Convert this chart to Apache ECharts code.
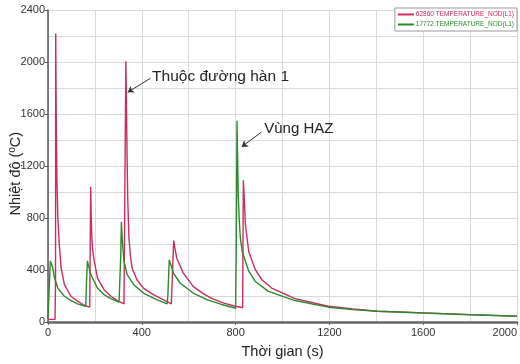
<!DOCTYPE html>
<html>
<head>
<meta charset="utf-8">
<script src="https://cdn.jsdelivr.net/npm/echarts@6/dist/echarts.min.js"></script>
<style>html,body{margin:0;padding:0;background:#fff}#c{width:520px;height:364px}</style>
</head>
<body>
<div id="c"></div>
<script>
// Series names
var seriesNames = ['62860 TEMPERATURE_NOD(L1)', '17772 TEMPERATURE_NOD(L1)'];
// Red node (62860): [time s, temperature ºC]
var redTime = [0,30,32,33,35,38,42,48,56,70,98,126,154,178,180,182,184,187,190,197,211,239,268,296,324,330,332,334,337,340,345,352,359,379,407,449,491,526,533,536,541,549,577,619,660,700,750,790,830,831,833,836,842,856,884,912,954,1053,1195,1300,1406,1600,1800,2000];
var redTemp = [20,20,300,2220,1600,1100,800,600,414,287,198,160,129,115,112,1040,830,650,560,468,338,249,198,165,139,138,2005,1770,1300,950,650,500,414,325,261,210,172,139,135,626,570,491,376,274,220,180,145,125,110,110,1090,985,746,542,402,325,261,180,121,100,83,70,57,45];
// Green node (17772)
var greenTime = [0,3,6,10,14,20,28,42,70,98,126,161,164,168,172,183,211,239,268,303,306,310,313,317,324,338,366,407,463,508,511,517,522,535,563,619,680,740,800,803,806,808,811,815,820,828,856,884,940,1053,1195,1300,1406,1600,1800,2000];
var greenTemp = [30,40,300,470,478,420,338,261,198,165,139,121,300,470,440,363,261,210,180,154,150,500,771,620,468,363,287,223,172,139,200,478,450,376,300,223,170,135,106,600,1548,1319,1000,800,650,544,391,312,236,165,114,95,83,69,56,44];
// Axis ticks
var xTicks = [0, 400, 800, 1200, 1600, 2000];
var yTicks = [0, 400, 800, 1200, 1600, 2000, 2400];
// Annotations: text, anchor [t, temp], arrow from -> to
var annoTexts = ['Thuộc đường hàn 1', 'Vùng HAZ'];
var annoTextAt = [[444, 1890], [922, 1487]];
var annoArrowFrom = [[437, 1875], [911, 1462]];
var annoArrowTo = [[340, 1767], [826, 1347]];

function zip(a, b) { return a.map(function (v, i) { return [v, b[i]]; }); }
function plain(v) { return String(v); }

var chart = echarts.init(document.getElementById('c'));
var FONT = 'Liberation Sans, Arial, sans-serif';
chart.setOption({
  animation: false,
  backgroundColor: '#fff',
  textStyle: { fontFamily: FONT },
  grid: { left: 48, right: 0, top: 10, bottom: 40 },
  legend: {
    orient: 'vertical', right: 3, top: 8,
    backgroundColor: '#fff', borderColor: '#999', borderWidth: 1,
    padding: [3, 3, 3, 3], itemGap: 3, itemWidth: 16, itemHeight: 2, icon: 'rect',
    textStyle: { fontSize: 6.5, padding: [0, 0, 0, -3] },
    data: [
      { name: seriesNames[0], textStyle: { color: '#c8285a' } },
      { name: seriesNames[1], textStyle: { color: '#2a8a2a' } }
    ]
  },
  xAxis: {
    type: 'value', min: xTicks[0], max: xTicks[xTicks.length - 1], interval: 400,
    name: 'Thời gian (s)', nameLocation: 'middle', nameGap: 22,
    nameTextStyle: { fontSize: 14.5, color: '#222' },
    axisLine: { lineStyle: { color: '#666', width: 2.5 } },
    axisTick: { show: true, length: 3, lineStyle: { color: '#666' } },
    axisLabel: { fontSize: 11, color: '#333', margin: 5, alignMaxLabel: 'right', formatter: plain },
    splitLine: { lineStyle: { color: '#d9d9d9' } },
    minorTick: { show: false, splitNumber: 2 },
    minorSplitLine: { show: true, lineStyle: { color: '#d9d9d9' } }
  },
  yAxis: {
    type: 'value', min: yTicks[0], max: yTicks[yTicks.length - 1], interval: 400,
    axisLine: { show: true, lineStyle: { color: '#555', width: 1.5 } },
    axisTick: { show: true, length: 3, lineStyle: { color: '#555' } },
    axisLabel: { fontSize: 11, color: '#333', margin: 3, formatter: plain },
    splitLine: { lineStyle: { color: '#d9d9d9' } },
    minorTick: { show: false, splitNumber: 2 },
    minorSplitLine: { show: true, lineStyle: { color: '#d9d9d9' } }
  },
  graphic: [{
    type: 'text', left: 8, top: 132,
    style: { text: 'Nhiệt độ (ºC)', font: '14.5px ' + FONT, fill: '#222' },
    rotation: Math.PI / 2, originX: 0, originY: 0
  }],
  series: [
    {
      name: seriesNames[0], type: 'line', showSymbol: false, symbol: 'none',
      data: zip(redTime, redTemp), z: 3,
      lineStyle: { color: '#cc2c5e', width: 1.4 }, itemStyle: { color: '#cc2c5e' },
      markLine: {
        silent: true, symbol: ['none', 'arrow'], symbolSize: 6,
        lineStyle: { color: '#333', width: 1, type: 'solid' }, label: { show: false },
        data: [[{ coord: annoArrowFrom[0] }, { coord: annoArrowTo[0] }]]
      },
      markPoint: {
        silent: true, symbol: 'circle', symbolSize: 0,
        label: { show: true, position: 'right', distance: 0, fontSize: 15.5, color: '#222', formatter: function (p) { return p.name; } },
        data: [{ name: annoTexts[0], coord: annoTextAt[0] }]
      }
    },
    {
      name: seriesNames[1], type: 'line', showSymbol: false, symbol: 'none',
      data: zip(greenTime, greenTemp), z: 4,
      lineStyle: { color: '#2a8a2a', width: 1.4 }, itemStyle: { color: '#2a8a2a' },
      markLine: {
        silent: true, symbol: ['none', 'arrow'], symbolSize: 6,
        lineStyle: { color: '#333', width: 1, type: 'solid' }, label: { show: false },
        data: [[{ coord: annoArrowFrom[1] }, { coord: annoArrowTo[1] }]]
      },
      markPoint: {
        silent: true, symbol: 'circle', symbolSize: 0,
        label: { show: true, position: 'right', distance: 0, fontSize: 15, color: '#222', formatter: function (p) { return p.name; } },
        data: [{ name: annoTexts[1], coord: annoTextAt[1] }]
      }
    }
  ]
});
</script>
</body>
</html>
